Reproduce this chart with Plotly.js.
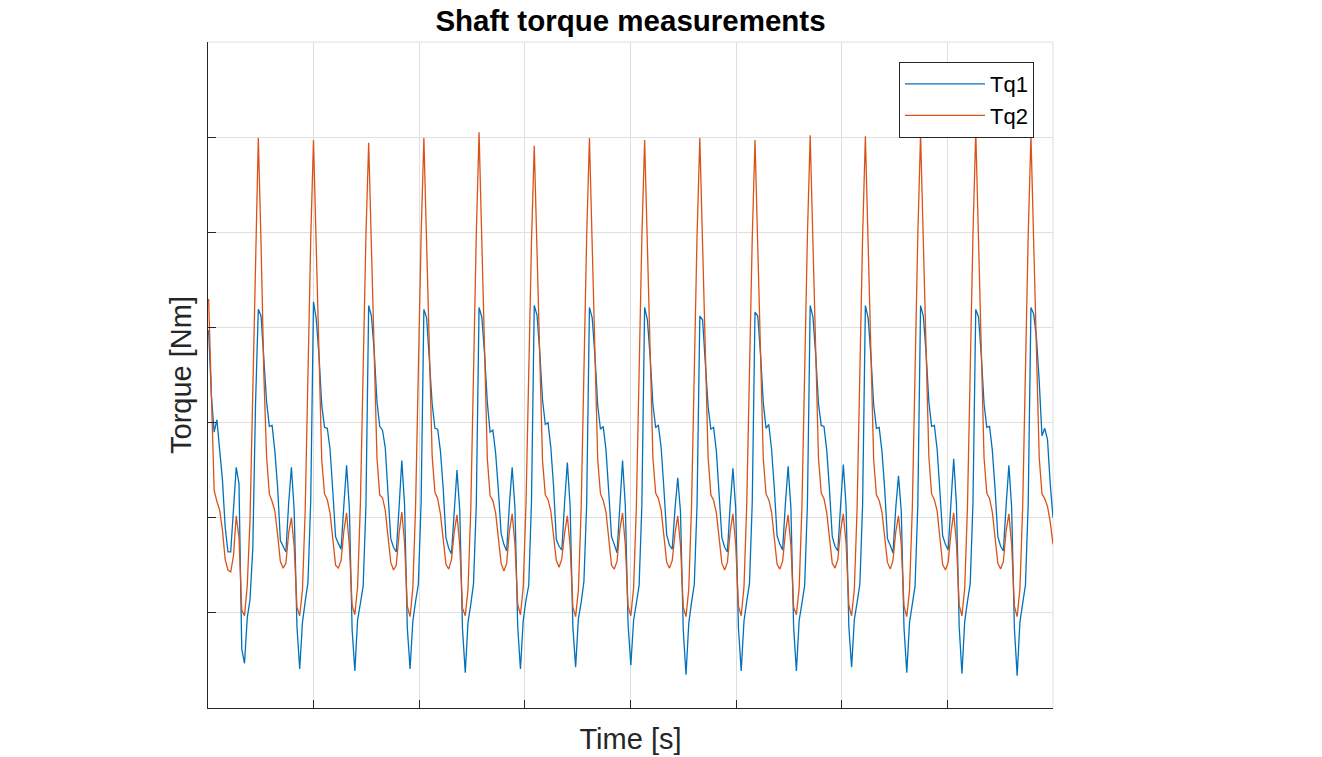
<!DOCTYPE html>
<html>
<head>
<meta charset="utf-8">
<script src="https://cdn.plot.ly/plotly-3.0.1.min.js"></script>
<style>
html,body{margin:0;padding:0;background:#fff;}
#chart{width:1322px;height:757px;}
</style>
</head>
<body>
<div id="chart"></div>
<script>
// Sampling of the recorded signals (time axis is unlabelled in the source)
const t0 = 0.006;
const dt = 0.026125;

const seriesNames = ["Tq1", "Tq2"];

// Tq1 samples
const tq1 = [
  3.97, 3.28, 2.90, 3.03, 2.71, 2.40, 1.90, 1.64, 1.64, 2.06, 2.53, 2.36, 0.62, 0.47, 0.95, 1.14, 1.68, 3.20,
  4.19, 4.12, 3.70, 3.22, 2.96, 2.97, 2.70, 2.32, 1.76, 1.70, 1.64, 2.15, 2.53, 2.08, 0.86, 0.41, 0.90, 1.12, 1.32, 2.18,
  4.27, 4.09, 3.70, 3.18, 2.95, 2.94, 2.72, 2.28, 1.80, 1.73, 1.67, 2.13, 2.55, 2.10, 0.82, 0.39, 0.93, 1.10, 1.28, 2.12,
  4.23, 4.12, 3.75, 3.22, 2.96, 2.92, 2.74, 2.26, 1.78, 1.69, 1.64, 2.10, 2.60, 2.14, 0.84, 0.41, 0.91, 1.12, 1.30, 2.16,
  4.19, 4.10, 3.68, 3.20, 2.94, 2.93, 2.70, 2.31, 1.79, 1.68, 1.62, 2.12, 2.50, 2.08, 0.83, 0.37, 0.90, 1.09, 1.31, 2.14,
  4.21, 4.11, 3.72, 3.21, 2.90, 2.92, 2.68, 2.29, 1.83, 1.72, 1.65, 2.14, 2.53, 2.11, 0.86, 0.41, 0.92, 1.13, 1.29, 2.17,
  4.23, 4.13, 3.74, 3.24, 2.98, 3.00, 2.74, 2.33, 1.77, 1.70, 1.66, 2.16, 2.58, 2.12, 0.85, 0.43, 0.94, 1.11, 1.33, 2.15,
  4.21, 4.10, 3.70, 3.18, 2.93, 2.96, 2.71, 2.27, 1.80, 1.72, 1.63, 2.11, 2.60, 2.13, 0.88, 0.45, 0.92, 1.10, 1.29, 2.13,
  4.21, 4.08, 3.69, 3.19, 2.95, 2.97, 2.73, 2.30, 1.82, 1.71, 1.67, 2.09, 2.42, 2.06, 0.82, 0.35, 0.89, 1.11, 1.30, 2.14,
  4.12, 4.08, 3.66, 3.17, 2.93, 2.95, 2.70, 2.28, 1.79, 1.69, 1.64, 2.13, 2.52, 2.10, 0.84, 0.39, 0.91, 1.12, 1.31, 2.16,
  4.16, 4.12, 3.72, 3.21, 2.94, 2.98, 2.72, 2.31, 1.81, 1.72, 1.66, 2.14, 2.54, 2.11, 0.85, 0.39, 0.92, 1.10, 1.29, 2.15,
  4.23, 4.11, 3.71, 3.20, 2.97, 2.96, 2.71, 2.29, 1.80, 1.70, 1.65, 2.12, 2.56, 2.12, 0.86, 0.43, 0.93, 1.11, 1.30, 2.14,
  4.23, 4.10, 3.70, 3.19, 2.94, 2.95, 2.70, 2.30, 1.78, 1.71, 1.63, 2.10, 2.44, 2.07, 0.84, 0.37, 0.90, 1.09, 1.28, 2.13,
  4.23, 4.12, 3.73, 3.22, 2.96, 2.97, 2.72, 2.28, 1.81, 1.72, 1.66, 2.15, 2.62, 2.14, 0.85, 0.36, 0.91, 1.12, 1.31, 2.17,
  4.19, 4.11, 3.71, 3.20, 2.95, 2.96, 2.71, 2.30, 1.80, 1.70, 1.65, 2.13, 2.55, 2.11, 0.84, 0.34, 0.90, 1.10, 1.29, 2.14,
  4.21, 4.14, 3.89, 3.43, 2.86, 2.94, 2.82, 2.35, 2.00
];

// Tq2 samples
const tq2 = [
  4.30, 3.20, 2.29, 2.17, 2.08, 1.87, 1.56, 1.45, 1.43, 1.60, 2.02, 1.79, 1.03, 0.97, 1.29, 1.98, 3.43, 4.81,
  5.99, 4.88, 3.52, 2.64, 2.25, 2.17, 2.07, 1.82, 1.54, 1.47, 1.52, 1.84, 2.00, 1.70, 1.06, 0.97, 1.24, 2.08, 3.62, 4.93,
  5.97, 4.84, 3.48, 2.60, 2.25, 2.19, 2.05, 1.78, 1.50, 1.47, 1.55, 1.86, 2.05, 1.70, 1.08, 0.98, 1.28, 2.15, 3.70, 4.96,
  5.94, 4.86, 3.50, 2.63, 2.24, 2.21, 2.08, 1.80, 1.53, 1.45, 1.50, 1.83, 2.06, 1.74, 1.07, 0.96, 1.26, 2.12, 3.66, 4.97,
  5.99, 4.90, 3.54, 2.65, 2.27, 2.20, 2.04, 1.79, 1.51, 1.46, 1.56, 1.85, 2.03, 1.71, 1.05, 0.97, 1.25, 2.09, 3.64, 4.98,
  6.05, 4.92, 3.55, 2.62, 2.23, 2.18, 2.05, 1.81, 1.52, 1.44, 1.52, 1.86, 2.04, 1.73, 1.09, 0.98, 1.27, 2.13, 3.62, 4.90,
  5.91, 4.82, 3.46, 2.60, 2.24, 2.19, 2.07, 1.80, 1.55, 1.48, 1.57, 1.84, 2.02, 1.70, 1.06, 0.96, 1.24, 2.10, 3.67, 4.96,
  5.99, 4.87, 3.51, 2.61, 2.25, 2.18, 2.06, 1.78, 1.50, 1.46, 1.54, 1.87, 2.05, 1.72, 1.07, 0.97, 1.26, 2.11, 3.68, 4.95,
  5.97, 4.85, 3.49, 2.63, 2.26, 2.20, 2.08, 1.81, 1.53, 1.47, 1.55, 1.83, 2.02, 1.71, 1.06, 0.96, 1.25, 2.12, 3.63, 4.97,
  5.99, 4.88, 3.52, 2.64, 2.24, 2.18, 2.05, 1.80, 1.52, 1.45, 1.53, 1.85, 2.04, 1.72, 1.07, 0.97, 1.27, 2.14, 3.66, 4.94,
  5.97, 4.86, 3.50, 2.62, 2.25, 2.19, 2.06, 1.79, 1.51, 1.46, 1.54, 1.84, 2.03, 1.71, 1.06, 0.98, 1.26, 2.11, 3.65, 4.98,
  6.02, 4.90, 3.53, 2.63, 2.26, 2.20, 2.05, 1.80, 1.52, 1.47, 1.56, 1.86, 2.04, 1.73, 1.08, 0.97, 1.25, 2.10, 3.64, 4.96,
  6.01, 4.89, 3.51, 2.61, 2.24, 2.18, 2.06, 1.81, 1.53, 1.46, 1.55, 1.85, 2.02, 1.72, 1.07, 0.96, 1.24, 2.09, 3.63, 4.97,
  6.03, 4.91, 3.54, 2.64, 2.25, 2.19, 2.07, 1.79, 1.51, 1.45, 1.53, 1.84, 2.05, 1.73, 1.08, 0.97, 1.26, 2.12, 3.66, 4.99,
  6.06, 4.93, 3.55, 2.63, 2.26, 2.20, 2.06, 1.80, 1.52, 1.46, 1.54, 1.86, 2.04, 1.72, 1.07, 0.96, 1.25, 2.11, 3.65, 4.96,
  6.02, 4.88, 3.52, 2.63, 2.25, 2.20, 2.12, 1.95, 1.72
];

// Axis tick positions (labels are hidden in the source)
const xTicks = [0, 1, 2, 3, 4, 5, 6, 7, 8];
const yTicks = [0, 1, 2, 3, 4, 5, 6, 7];

const FONT = '"Liberation Sans", Arial, Helvetica, sans-serif';
const AXC = '#262626';
const GRID = '#dfdfdf';

const traces = [
  {type: 'scatter', mode: 'lines', name: seriesNames[0], x0: t0, dx: dt, y: tq1,
   line: {color: '#0072BD', width: 1.3}},
  {type: 'scatter', mode: 'lines', name: seriesNames[1], x0: t0, dx: dt, y: tq2,
   line: {color: '#D95319', width: 1.3}}
];

const layout = {
  width: 1322, height: 757,
  margin: {l: 208, r: 269, t: 42, b: 49, pad: 0},
  paper_bgcolor: '#ffffff', plot_bgcolor: '#ffffff',
  font: {family: FONT, color: '#000'},
  title: {text: '<b>Shaft torque measurements</b>', font: {family: FONT, size: 29.5, color: '#000'},
          x: 0.5, xref: 'paper', xanchor: 'center', y: 1 - 21/757, yref: 'container', yanchor: 'middle'},
  showlegend: true,
  legend: {x: 0.9775, y: 0.97, xanchor: 'right', yanchor: 'top', bgcolor: '#fff',
           bordercolor: AXC, borderwidth: 1, font: {family: FONT, size: 22, color: '#000'},
           itemwidth: 80, tracegroupgap: 0},
  xaxis: {range: [0, 8], tickvals: xTicks, showticklabels: false, ticks: 'inside', ticklen: 8,
          tickcolor: AXC, tickwidth: 1.2, showline: true, linecolor: AXC, linewidth: 1.2,
          showgrid: true, gridcolor: GRID, gridwidth: 1, zeroline: false, fixedrange: true,
          title: {text: 'Time [s]', font: {family: FONT, size: 29, color: '#262626'}, standoff: 20}},
  yaxis: {range: [0, 7], tickvals: yTicks, showticklabels: false, ticks: 'inside', ticklen: 8,
          tickcolor: AXC, tickwidth: 1.2, showline: true, linecolor: AXC, linewidth: 1.2,
          showgrid: true, gridcolor: GRID, gridwidth: 1, zeroline: false, fixedrange: true,
          title: {text: 'Torque [Nm]', font: {family: FONT, size: 29, color: '#262626'}, standoff: 6}},
  shapes: [
    {type: 'line', xref: 'paper', yref: 'paper', x0: 0, x1: 1, y0: 1, y1: 1, line: {color: GRID, width: 1}, layer: 'below'},
    {type: 'line', xref: 'paper', yref: 'paper', x0: 1, x1: 1, y0: 0, y1: 1, line: {color: GRID, width: 1}, layer: 'below'}
  ]
};

Plotly.newPlot('chart', traces, layout, {displayModeBar: false, staticPlot: true});
</script>
</body>
</html>
